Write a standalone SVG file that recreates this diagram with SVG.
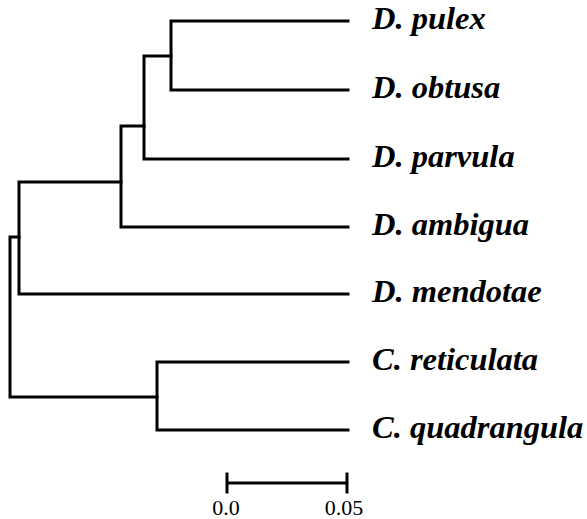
<svg xmlns="http://www.w3.org/2000/svg" width="587" height="519" viewBox="0 0 587 519">
<style>
.br{fill:none;stroke:#000;stroke-width:3;stroke-linecap:square;stroke-linejoin:miter}
.lb{font-family:"Liberation Serif","Times New Roman",serif;font-weight:bold;font-style:italic;font-size:32.5px;fill:#000}
.sc{font-family:"Liberation Serif","Times New Roman",serif;font-size:22px;fill:#000;text-anchor:middle}
</style>
<rect width="587" height="519" fill="#fff"/>
<g id="connectors" class="br">
<path d="M348,21 H171 V90 H348"/>
<path d="M171,56 H144 V159 H348"/>
<path d="M144,126 H121 V227 H348"/>
<path d="M121,182 H19 V294 H348"/>
<path d="M19,237 H10 V397 H157"/>
<path d="M348,362 H157 V430 H348"/>
</g>
<g id="pulex"><text class="lb" x="372" y="29">D. pulex</text></g>
<g id="obtusa"><text class="lb" x="372" y="98">D. obtusa</text></g>
<g id="parvula"><text class="lb" x="372" y="167">D. parvula</text></g>
<g id="ambigua"><text class="lb" x="372" y="235">D. ambigua</text></g>
<g id="mendotae"><text class="lb" x="372" y="302">D. mendotae</text></g>
<g id="reticulata"><text class="lb" x="372" y="370">C. reticulata</text></g>
<g id="quadrangula"><text class="lb" x="372" y="438">C. quadrangula</text></g>
<g id="scalebar">
<path class="br" d="M227,483 H347 M227,474 V492 M347,474 V492"/>
<text class="sc" x="226" y="515">0.0</text>
<text class="sc" x="344" y="515">0.05</text>
</g>
</svg>
